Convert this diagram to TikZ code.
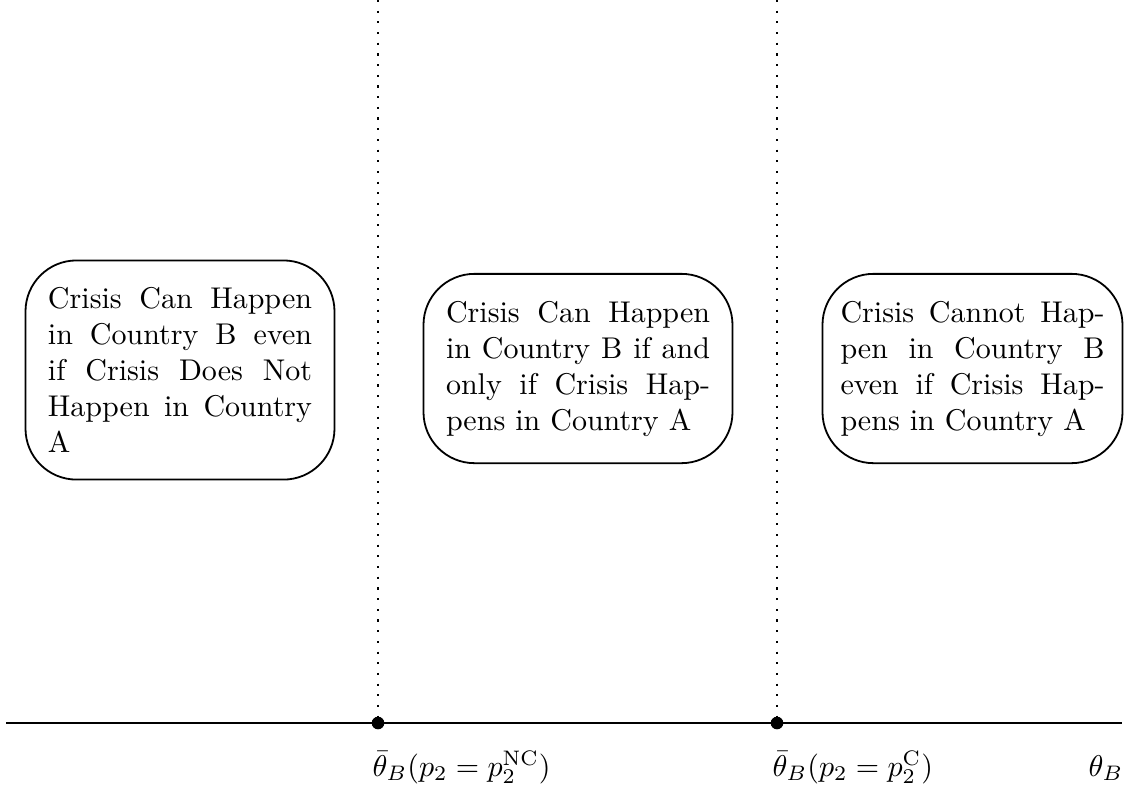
\documentclass[tikz,border=0pt]{standalone}
\begin{document}
\begin{tikzpicture}[x=0.33333pt,y=-0.33333pt,
  region/.style={draw,line width=0.6pt,rounded corners=17pt,text width=88pt,align=justify,inner xsep=7.5pt,inner ysep=9pt},
  axisline/.style={line width=0.6pt},
  guide/.style={line width=0.7pt,dash pattern=on 0.7pt off 2.86pt},
  ptdot/.style={circle,fill,inner sep=0pt,minimum size=4.2pt}]
\useasboundingbox (0,0) rectangle (1127,790);
\node[region] (r1) at (180,370) {Crisis Can Happen in Country B even if Crisis Does Not Happen in Country A};
\node[region] (r2) at (578,368.5) {Crisis Can Happen in Country B if and only if Crisis Happens in Country A};
\node[region,inner xsep=6pt] (r3) at (972.5,368.5) {Crisis Cannot Happen in Country B even if Crisis Happens in Country A};
\coordinate (a0) at (6,723);
\coordinate (a1) at (1122,723);
\coordinate (t1) at (378,0);
\coordinate (t2) at (777,0);
\node[ptdot] (d1) at (378,723) {};
\node[ptdot] (d2) at (777,723) {};
\draw[axisline] (a0) -- (a1);
\draw[guide] (t1) -- (d1.center);
\draw[guide] (t2) -- (d2.center);
\node[anchor=base west,inner sep=0pt] (l1) at (372,776) {$\bar{\theta}_B(p_2=p_2^{\mathrm{NC}})$};
\node[anchor=base west,inner sep=0pt] (l2) at (772,776) {$\bar{\theta}_B(p_2=p_2^{\mathrm{C}})$};
\node[anchor=base west,inner sep=0pt] (l3) at (1088,776) {$\theta_B$};
\end{tikzpicture}
\end{document}
